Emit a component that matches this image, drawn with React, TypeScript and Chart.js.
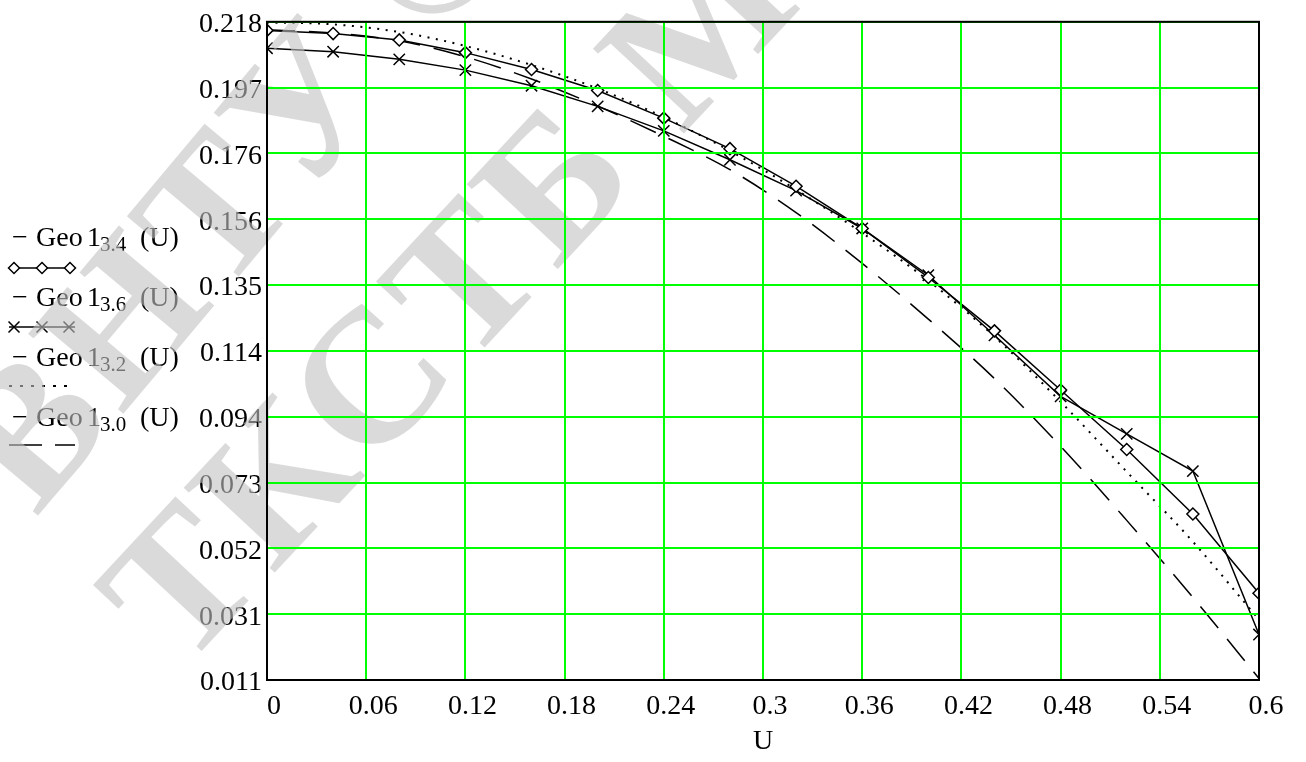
import React, { useEffect, useRef } from "react";
import { Chart, registerables } from "chart.js";

Chart.register(...registerables);

// ---- data ----
const U_VALUES = [0, 0.04, 0.08, 0.12, 0.16, 0.2, 0.24, 0.28, 0.32, 0.36, 0.4, 0.44, 0.48, 0.52, 0.56, 0.6];
const GEO_3_4 = [0.2153, 0.2143, 0.2123, 0.2083, 0.203, 0.1964, 0.1877, 0.1781, 0.1663, 0.153, 0.1376, 0.1208, 0.1022, 0.0835, 0.0632, 0.0383];
const GEO_3_6 = [0.2097, 0.2086, 0.2062, 0.2028, 0.1979, 0.1914, 0.1837, 0.1746, 0.1649, 0.153, 0.1383, 0.1194, 0.1002, 0.0884, 0.0767, 0.0253];
const GEO_3_2 = [0.2178, 0.2172, 0.2148, 0.2104, 0.2044, 0.197, 0.188, 0.1774, 0.1652, 0.1516, 0.1366, 0.119, 0.0985, 0.0765, 0.0545, 0.03];
const GEO_3_0 = [0.2155, 0.2145, 0.212, 0.207, 0.2, 0.1915, 0.182, 0.1715, 0.158, 0.142, 0.1245, 0.1058, 0.0845, 0.0612, 0.037, 0.0115];

const SERIES_KEYS = ["3.4", "3.6", "3.2", "3.0"];
const X_TICK_LABELS = ["0", "0.06", "0.12", "0.18", "0.24", "0.3", "0.36", "0.42", "0.48", "0.54", "0.6"];
const Y_TICK_LABELS = ["0.011", "0.031", "0.052", "0.073", "0.094", "0.114", "0.135", "0.156", "0.176", "0.197", "0.218"];
const X_TITLE = "U";
const WATERMARK_LINES = ["ВНТУ ©", "ТКСТБ МК"];

const Y_MIN = 0.011;
const Y_MAX = 0.218;
const X_MIN = 0;
const X_MAX = 0.6;

const FONT = "'Liberation Serif', 'Times New Roman', serif";

const toPoints = (ys: number[]) => U_VALUES.map((u, i) => ({ x: u, y: ys[i] }));

function drawDiamond(ctx: CanvasRenderingContext2D, x: number, y: number, r: number) {
  ctx.beginPath();
  ctx.moveTo(x - r, y);
  ctx.lineTo(x, y - r);
  ctx.lineTo(x + r, y);
  ctx.lineTo(x, y + r);
  ctx.closePath();
  ctx.fillStyle = "#fff";
  ctx.fill();
  ctx.stroke();
}
function drawCross(ctx: CanvasRenderingContext2D, x: number, y: number, r: number) {
  ctx.beginPath();
  ctx.moveTo(x - r, y - r);
  ctx.lineTo(x + r, y + r);
  ctx.moveTo(x - r, y + r);
  ctx.lineTo(x + r, y - r);
  ctx.stroke();
}

const sideLegend = {
  id: "sideLegend",
  beforeDatasetsDraw(chart: any) {
    const ctx: CanvasRenderingContext2D = chart.ctx;
    ctx.save();
    ctx.fillStyle = "#000";
    ctx.strokeStyle = "#000";
    ctx.textAlign = "left";
    ctx.textBaseline = "alphabetic";
    SERIES_KEYS.forEach((key, i) => {
      const ty = 246 + 60 * i;
      ctx.fillStyle = "#000";
      ctx.font = `28px ${FONT}`;
      ctx.fillText("\u2212", 12, ty);
      ctx.fillText("Geo", 36, ty);
      ctx.fillText("1", 87, ty);
      ctx.font = `21px ${FONT}`;
      ctx.fillText(key, 100, ty + 5);
      ctx.font = `28px ${FONT}`;
      ctx.fillText("(U)", 140, ty);

      const my = 268 + 59 * i;
      ctx.lineWidth = 1.5;
      ctx.setLineDash([]);
      if (i === 0) {
        ctx.beginPath(); ctx.moveTo(9, my); ctx.lineTo(75, my); ctx.stroke();
        [14, 42, 70].forEach((x) => drawDiamond(ctx, x, my, 5.5));
      } else if (i === 1) {
        ctx.beginPath(); ctx.moveTo(9, my); ctx.lineTo(75, my); ctx.stroke();
        [14, 42, 69].forEach((x) => drawCross(ctx, x, my, 5.5));
      } else if (i === 2) {
        ctx.lineWidth = 2;
        ctx.setLineDash([3, 8]);
        ctx.beginPath(); ctx.moveTo(9, my); ctx.lineTo(72, my); ctx.stroke();
      } else {
        ctx.beginPath(); ctx.moveTo(9, my); ctx.lineTo(42, my); ctx.moveTo(55, my); ctx.lineTo(75, my); ctx.stroke();
      }
    });
    ctx.restore();
  },
};

const watermark = {
  id: "watermark",
  afterDatasetsDraw(chart: any) {
    const ctx: any = chart.ctx;
    const lines = [
      { x: 36, y: 518, deg: -50 },
      { x: 182, y: 672, deg: -47 },
    ];
    ctx.save();
    ctx.fillStyle = "rgba(194,194,194,0.6)";
    ctx.font = `bold 190px ${FONT}`;
    ctx.textAlign = "left";
    ctx.textBaseline = "alphabetic";
    if ("letterSpacing" in ctx) ctx.letterSpacing = "6px";
    WATERMARK_LINES.forEach((line, i) => {
      ctx.save();
      ctx.translate(lines[i].x, lines[i].y);
      ctx.rotate((lines[i].deg * Math.PI) / 180);
      ctx.fillText(line, 0, 0);
      ctx.restore();
    });
    ctx.restore();
  },
};

const frame = {
  id: "frame",
  afterDraw(chart: any) {
    const { ctx, chartArea } = chart;
    ctx.save();
    ctx.strokeStyle = "#000";
    ctx.lineWidth = 2;
    ctx.setLineDash([]);
    ctx.strokeRect(chartArea.left, chartArea.top, chartArea.right - chartArea.left, chartArea.bottom - chartArea.top);
    ctx.restore();
  },
};

export default function App() {
  const ref = useRef<HTMLCanvasElement>(null);

  useEffect(() => {
    const lineBase = {
      borderColor: "#000",
      backgroundColor: "#fff",
      borderWidth: 1.5,
      fill: false,
      clip: 0,
    };
    const chart = new Chart(ref.current as HTMLCanvasElement, {
      type: "line",
      data: {
        datasets: [
          {
            ...lineBase,
            label: "Geo1 3.4(U)",
            data: toPoints(GEO_3_4),
            tension: 0,
            pointStyle: "rectRot",
            pointRadius: 6,
            pointBorderWidth: 1.5,
            pointBackgroundColor: "#fff",
            pointBorderColor: "#000",
          },
          {
            ...lineBase,
            label: "Geo1 3.6(U)",
            data: toPoints(GEO_3_6),
            tension: 0,
            pointStyle: "crossRot",
            pointRadius: 8,
            pointBorderWidth: 1.5,
            pointBorderColor: "#000",
          },
          {
            ...lineBase,
            label: "Geo1 3.2(U)",
            data: toPoints(GEO_3_2),
            cubicInterpolationMode: "monotone",
            borderWidth: 2,
            borderDash: [2, 6.5],
            pointRadius: 0,
          },
          {
            ...lineBase,
            label: "Geo1 3.0(U)",
            data: toPoints(GEO_3_0),
            cubicInterpolationMode: "monotone",
            borderDash: [28, 14],
            pointRadius: 0,
          },
        ] as any,
      },
      options: {
        animation: false,
        responsive: true,
        maintainAspectRatio: false,
        layout: { padding: { left: 0, right: 47, top: 17, bottom: 0 } },
        plugins: {
          legend: { display: false },
          tooltip: { enabled: false },
        },
        scales: {
          x: {
            type: "linear",
            min: X_MIN,
            max: X_MAX,
            afterBuildTicks: (s: any) => {
              s.ticks = X_TICK_LABELS.map((t) => ({ value: parseFloat(t) }));
            },
            afterFit: (s: any) => {
              s.height = 82;
            },
            grid: { color: "#00ff00", lineWidth: 2, drawTicks: false, z: 1 } as any,
            border: { display: false },
            ticks: {
              callback: (_v: any, i: number) => X_TICK_LABELS[i],
              font: { family: FONT, size: 28 },
              color: "#000",
              padding: 10,
              labelOffset: 7,
              maxRotation: 0,
              autoSkip: false,
            },
            title: {
              display: true,
              text: X_TITLE,
              font: { family: FONT, size: 28 },
              color: "#000",
              padding: { top: 0, bottom: 4 },
            },
          },
          y: {
            type: "linear",
            min: Y_MIN,
            max: Y_MAX,
            afterBuildTicks: (s: any) => {
              const n = Y_TICK_LABELS.length - 1;
              s.ticks = Y_TICK_LABELS.map((_t, i) => ({ value: Y_MIN + ((Y_MAX - Y_MIN) * i) / n }));
            },
            afterFit: (s: any) => {
              s.width = 267;
            },
            grid: { color: "#00ff00", lineWidth: 2, drawTicks: false, z: 1 } as any,
            border: { display: false },
            ticks: {
              callback: (_v: any, i: number) => Y_TICK_LABELS[i],
              font: { family: FONT, size: 28 },
              color: "#000",
              padding: 5,
              labelOffset: 3,
              autoSkip: false,
            },
          },
        },
      },
      plugins: [sideLegend, watermark, frame],
    });
    return () => chart.destroy();
  }, []);

  return (
    <div style={{ position: "absolute", left: 0, top: 0, width: 1306, height: 762, background: "#fff" }}>
      <canvas ref={ref} />
    </div>
  );
}
